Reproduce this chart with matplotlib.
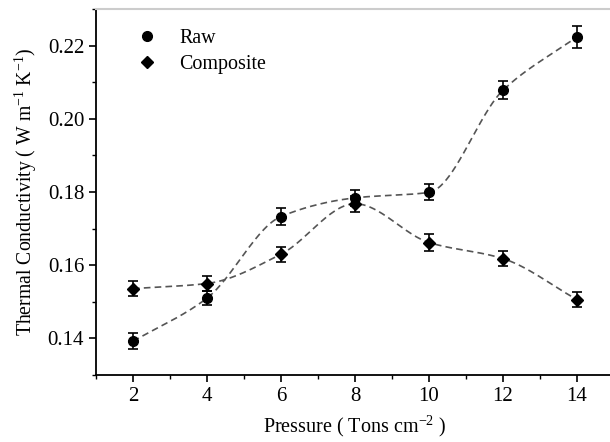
import numpy as np
import matplotlib
matplotlib.use('Agg')
import matplotlib.pyplot as plt
from matplotlib.ticker import MultipleLocator

# Data
pressure = [2, 4, 6, 8, 10, 12, 14]
raw_k = [0.1392, 0.1510, 0.1733, 0.1784, 0.1799, 0.2078, 0.2224]
raw_err = [0.0022, 0.0020, 0.0022, 0.0022, 0.0022, 0.0025, 0.0030]
comp_k = [0.1536, 0.1550, 0.1630, 0.1768, 0.1662, 0.1618, 0.1506]
comp_err = [0.0020, 0.0020, 0.0020, 0.0022, 0.0022, 0.0020, 0.0020]


def smooth_line(x, y, n=300):
    # shape-preserving cubic (PCHIP) through the points
    x = np.asarray(x, float)
    y = np.asarray(y, float)
    h = np.diff(x)
    delta = np.diff(y) / h
    m = np.zeros_like(y)
    for i in range(1, len(x) - 1):
        if delta[i - 1] * delta[i] > 0:
            w1 = 2 * h[i] + h[i - 1]
            w2 = h[i] + 2 * h[i - 1]
            m[i] = (w1 + w2) / (w1 / delta[i - 1] + w2 / delta[i])
    m[0] = delta[0]
    m[-1] = delta[-1]
    xs = np.linspace(x[0], x[-1], n)
    idx = np.clip(np.searchsorted(x, xs) - 1, 0, len(x) - 2)
    t = (xs - x[idx]) / h[idx]
    h00 = 2 * t ** 3 - 3 * t ** 2 + 1
    h10 = t ** 3 - 2 * t ** 2 + t
    h01 = -2 * t ** 3 + 3 * t ** 2
    h11 = t ** 3 - t ** 2
    ys = h00 * y[idx] + h10 * h[idx] * m[idx] + h01 * y[idx + 1] + h11 * h[idx] * m[idx + 1]
    return xs, ys


plt.rcParams['font.family'] = 'Liberation Serif'
plt.rcParams['mathtext.fontset'] = 'custom'
plt.rcParams['mathtext.rm'] = 'Liberation Serif'

fig = plt.figure(figsize=(6.1, 4.42), dpi=100)
ax = fig.add_axes([96 / 610, 1 - 375 / 442, 518 / 610, 366 / 442])

for yy in (raw_k, comp_k):
    cx, cy = smooth_line(pressure, yy)
    ax.plot(cx, cy, linestyle=(0, (4, 2.5)), color='#555555', linewidth=1.2, zorder=1)

ax.errorbar(pressure, raw_k, yerr=raw_err, fmt='o', color='black', markersize=7,
            capsize=3.5, elinewidth=1.2, capthick=1.2, label='Raw', zorder=3)
ax.errorbar(pressure, comp_k, yerr=comp_err, fmt='D', color='black', markersize=6,
            capsize=3.5, elinewidth=1.2, capthick=1.2, label='Composite', zorder=3)

ax.set_xlim(1, 15)
ax.set_ylim(0.13, 0.23)
ax.xaxis.set_major_locator(MultipleLocator(2))
ax.xaxis.set_minor_locator(MultipleLocator(1))
ax.yaxis.set_major_locator(MultipleLocator(0.02))
ax.yaxis.set_minor_locator(MultipleLocator(0.01))
ax.yaxis.set_major_formatter(plt.FormatStrFormatter('%.2f'))
ax.tick_params(which='major', direction='out', length=5, width=1.2, labelsize=15,
               top=False, right=False)
ax.tick_params(which='minor', direction='out', length=3, width=1.0, top=False, right=False)

for s in ('left', 'bottom'):
    ax.spines[s].set_linewidth(1.3)
ax.spines['top'].set_color('#cccccc')
ax.spines['top'].set_linewidth(1.5)
ax.spines['right'].set_visible(False)

ax.set_xlabel('Pressure ( Tons cm$^{-2}$ )', fontsize=14.5, labelpad=5)
ax.set_ylabel('Thermal Conductivity ( W m$^{-1}$ K$^{-1}$)', fontsize=14.2, labelpad=6)

handles, labels = ax.get_legend_handles_labels()
handles = [h[0] for h in handles]
ax.legend(handles, labels, loc='upper left', frameon=False, fontsize=14.4,
          bbox_to_anchor=(0.045, 0.995), handlelength=1.0, handletextpad=1.1,
          labelspacing=0.35)

fig.savefig('out.png', dpi=100)
